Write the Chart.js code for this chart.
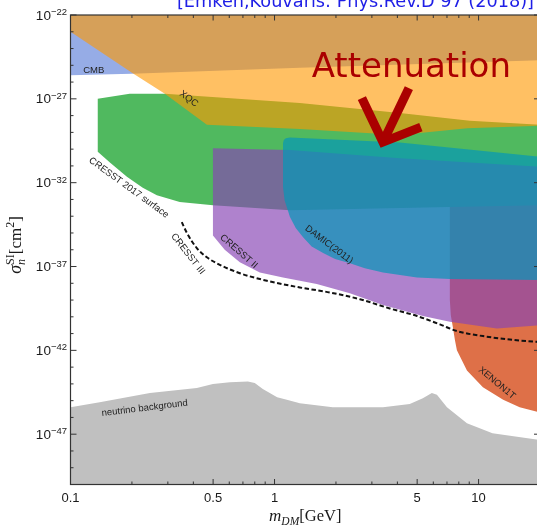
<!DOCTYPE html>
<html>
<head>
<meta charset="utf-8">
<script src="https://cdn.jsdelivr.net/npm/chart.js@4.4.1/dist/chart.umd.min.js"></script>
<style>
  html, body { margin: 0; padding: 0; background: #fff; overflow: hidden; width: 537px; height: 525px; }
  #wrap { position: relative; width: 541px; height: 525px; }
</style>
</head>
<body>
<div id="wrap"><canvas id="c" width="541" height="525"></canvas></div>
<script>
// Exclusion regions: dark-matter mass m_DM in GeV, cross-section as log10(sigma / cm^2)
const cmbMass      = [0.1, 0.2, 1.33, 20, 20, 0.1];
const cmbLogSigma  = [-25.6, -25.5, -25.15, -24.7, -22, -22];

const xqcMass      = [0.1, 0.2, 0.29, 0.466, 1.33, 4.1, 8.8, 20, 20, 0.1];
const xqcLogSigma  = [-23.0, -25.45, -26.7, -28.55, -28.8, -29.15, -28.75, -28.6, -22, -22];

const surfMass     = [0.136, 0.195, 0.29, 1.33, 4.11, 9.06, 20, 20, 7.23, 1.19, 0.499, 0.343, 0.265, 0.226, 0.189, 0.156, 0.136];
const surfLogSigma = [-27.0, -26.7, -26.7, -27.25, -27.85, -28.3, -28.55, -33.35, -33.45, -33.65, -33.35, -33.15, -32.75, -32.3, -31.65, -30.8, -30.15];

const cresst2Mass     = [0.499, 1.19, 4.11, 20, 20, 12.3, 7.23, 5.33, 3.40, 2.34, 1.61, 1.10, 0.847, 0.676, 0.570, 0.499];
const cresst2LogSigma = [-29.95, -30.05, -30.55, -31.05, -40.5, -40.7, -40.3, -39.95, -39.3, -38.6, -38.05, -37.65, -37.35, -36.75, -36.0, -35.15];

const damicMass     = [1.10, 1.11, 1.136, 1.19, 4.11, 20, 20, 7.23, 4.99, 3.40, 2.77, 2.34, 1.98, 1.73, 1.52, 1.38, 1.27, 1.19, 1.12, 1.10];
const damicLogSigma = [-29.65, -29.45, -29.35, -29.3, -29.6, -30.45, -37.8, -37.75, -37.65, -37.35, -37.1, -36.8, -36.55, -36.2, -35.8, -35.25, -34.7, -34.05, -33.05, -32.25];

const xenonMass     = [7.23, 20, 20, 15.9, 13.2, 10.5, 8.77, 7.83, 7.66, 7.48, 7.31, 7.23];
const xenonLogSigma = [-31.05, -31.0, -45.7, -45.4, -44.95, -44.2, -43.2, -42.0, -41.4, -40.6, -39.9, -39.0];

const nuMass     = [0.1, 0.139, 0.245, 0.416, 0.499, 0.604, 0.740, 0.800, 0.876, 1.03, 1.149, 1.33, 1.93, 3.40, 4.60, 5.33, 5.90, 6.25, 7.00, 8.77, 11.7, 20, 20, 0.1];
const nuLogSigma = [-45.4, -45.1, -44.55, -44.25, -44.0, -43.9, -43.85, -43.95, -44.3, -44.8, -44.95, -45.15, -45.4, -45.4, -45.2, -44.85, -44.55, -44.65, -45.4, -46.35, -46.95, -47.35, -50, -50];

// CRESST III projected limit (dashed curve)
const cresst3Mass     = [0.351, 0.372, 0.416, 0.466, 0.539, 0.676, 0.917, 1.33, 1.87, 2.62, 3.67, 4.99, 6.46, 7.83, 10.5, 15.4, 20];
const cresst3LogSigma = [-34.35, -35.0, -35.9, -36.45, -36.9, -37.4, -37.85, -38.25, -38.55, -38.95, -39.5, -39.95, -40.45, -40.85, -41.15, -41.4, -41.5];

// Axis ticks
const xTickLabels = [0.1, 0.5, 1, 5, 10];
const yTickExps   = [-22, -27, -32, -37, -42, -47];

// Region names, placed in data coordinates
const regionLabels = [
  { text: 'CMB', m: 0.130, s: -25.28, angle: 0 },
  { text: 'XQC', m: 0.380, s: -27.0, angle: 37 },
  { text: 'CRESST 2017 surface', m: 0.193, s: -32.3, angle: 36 },
  { text: 'CRESST III', m: 0.376, s: -36.25, angle: 52 },
  { text: 'CRESST II', m: 0.668, s: -36.1, angle: 41 },
  { text: 'DAMIC(2011)', m: 1.85, s: -35.7, angle: 37 },
  { text: 'XENON1T', m: 12.3, s: -43.95, angle: 40 },
  { text: 'neutrino background', m: 0.231, s: -45.45, angle: -7 }
];

function pts(ms, ls) {
  return ms.map((m, i) => ({ x: m, y: Math.pow(10, ls[i]) }));
}
function region(label, ms, ls, color, order) {
  return {
    label, data: pts(ms, ls), showLine: true, fill: 'shape',
    backgroundColor: color, borderColor: 'transparent', borderWidth: 0,
    pointRadius: 0, tension: 0, order
  };
}

function drawRuns(ctx, runs, x, y, angle, align) {
  ctx.save();
  ctx.translate(x, y);
  ctx.rotate(angle);
  let w = 0;
  runs.forEach(r => { ctx.font = r.font; r.w = ctx.measureText(r.text).width; if (r.adv !== 0) w += r.w; });
  let cx = align === 'center' ? -w / 2 : align === 'right' ? -w : 0;
  ctx.textAlign = 'left';
  ctx.textBaseline = 'alphabetic';
  runs.forEach(r => {
    ctx.font = r.font;
    ctx.fillText(r.text, cx, r.dy || 0);
    if (r.adv !== 0) cx += r.w;
  });
  ctx.restore();
}

const SANS = '"Liberation Sans", Arial, sans-serif';
const SERIF = '"Liberation Serif", "Times New Roman", serif';

const decor = {
  id: 'decor',
  afterDatasetsDraw(chart) {
    const { ctx, chartArea: a, scales: { x, y } } = chart;
    const px = m => x.getPixelForValue(m);
    const py = e => y.getPixelForValue(Math.pow(10, e));

    // region names
    ctx.save();
    ctx.fillStyle = '#222';
    ctx.font = '9.5px ' + SANS;
    ctx.textAlign = 'center';
    ctx.textBaseline = 'middle';
    regionLabels.forEach(l => {
      ctx.save();
      ctx.translate(px(l.m), py(l.s));
      ctx.rotate(l.angle * Math.PI / 180);
      ctx.fillText(l.text, 0, 0);
      ctx.restore();
    });
    ctx.restore();

    // frame
    ctx.save();
    ctx.strokeStyle = '#333';
    ctx.lineWidth = 1.2;
    ctx.strokeRect(a.left, a.top, a.right - a.left, a.bottom - a.top);

    // inward tick marks
    ctx.lineWidth = 1;
    ctx.beginPath();
    for (let k = -1; k <= 1; k++) {
      for (let d = 1; d <= 9; d++) {
        const v = d * Math.pow(10, k);
        if (v < 0.1 - 1e-9 || v > 20 + 1e-9) continue;
        const p = px(v);
        const major = xTickLabels.some(t => Math.abs(t - v) < 1e-9);
        const len = major ? 5.5 : 3;
        ctx.moveTo(p, a.bottom); ctx.lineTo(p, a.bottom - len);
        ctx.moveTo(p, a.top); ctx.lineTo(p, a.top + len);
      }
    }
    for (let e = -50; e <= -22; e++) {
      const p = py(e);
      const major = yTickExps.includes(e);
      const len = major ? 6 : 3;
      ctx.moveTo(a.left, p); ctx.lineTo(a.left + len, p);
      ctx.moveTo(a.right, p); ctx.lineTo(a.right - len, p);
    }
    ctx.stroke();
    ctx.restore();

    // tick labels
    ctx.save();
    ctx.fillStyle = '#1a1a1a';
    ctx.font = '13px ' + SANS;
    ctx.textAlign = 'center';
    ctx.textBaseline = 'alphabetic';
    xTickLabels.forEach(v => ctx.fillText(String(v), px(v), a.bottom + 17.5));
    yTickExps.forEach(e => {
      drawRuns(ctx, [
        { text: '10', font: '13.5px ' + SANS, dy: 4.5 },
        { text: '\u2212' + String(-e), font: '9.5px ' + SANS, dy: 0 }
      ], a.left - 3.5, py(e), 0, 'right');
    });

    // axis titles
    drawRuns(ctx, [
      { text: 'm', font: 'italic 17px ' + SERIF },
      { text: 'DM', font: 'italic 11.5px ' + SERIF, dy: 3.5 },
      { text: '[GeV]', font: '16.5px ' + SERIF }
    ], (a.left + a.right) / 2, 521, 0, 'center');
    drawRuns(ctx, [
      { text: '\u03c3', font: 'italic 18px ' + SERIF },
      { text: 'n', font: 'italic 12px ' + SERIF, dy: 4, adv: 0 },
      { text: 'SI', font: '12px ' + SERIF, dy: -7 },
      { text: '[cm', font: '17px ' + SERIF },
      { text: '2', font: '12px ' + SERIF, dy: -7 },
      { text: ']', font: '17px ' + SERIF }
    ], 21, 245, -Math.PI / 2, 'center');
    ctx.restore();

    // attenuation note with hand-drawn arrow
    ctx.save();
    const red = '#aa0000';
    ctx.fillStyle = red;
    ctx.font = '34px "DejaVu Sans", Verdana, sans-serif';
    ctx.textAlign = 'left';
    ctx.textBaseline = 'alphabetic';
    ctx.fillText('Attenuation', px(1.52), py(-25.70));
    const tx = px(3.32), ty = py(-29.94);
    ctx.strokeStyle = red;
    ctx.lineWidth = 9;
    ctx.lineJoin = 'miter';
    ctx.lineCap = 'butt';
    ctx.beginPath();
    ctx.moveTo(tx - 19, ty - 50);
    ctx.lineTo(tx + 2, ty - 6);
    ctx.lineTo(tx + 40, ty - 21);
    ctx.stroke();
    ctx.beginPath();
    ctx.moveTo(tx + 28, ty - 60);
    ctx.lineTo(tx + 4, ty - 10);
    ctx.stroke();
    ctx.restore();

    // reference line at the top
    ctx.save();
    ctx.fillStyle = '#1e1ee6';
    const title = '[Emken,Kouvaris: Phys.Rev.D 97 (2018)]';
    ctx.font = '100px "DejaVu Sans", Verdana, sans-serif';
    const size = 100 * 357 / ctx.measureText(title).width;
    ctx.font = size.toFixed(2) + 'px "DejaVu Sans", Verdana, sans-serif';
    ctx.textAlign = 'right';
    ctx.textBaseline = 'alphabetic';
    ctx.fillText(title, 534, 7);
    ctx.restore();
  }
};

new Chart(document.getElementById('c'), {
  type: 'scatter',
  data: {
    datasets: [
      {
        label: 'CRESST III', data: pts(cresst3Mass, cresst3LogSigma), showLine: true, fill: false,
        borderColor: '#111', borderWidth: 2, borderDash: [4.5, 2.5], pointRadius: 0,
        cubicInterpolationMode: 'monotone', order: 1
      },
      region('DAMIC(2011)', damicMass, damicLogSigma, 'rgba(4,151,184,0.70)', 2),
      region('CRESST II', cresst2Mass, cresst2LogSigma, 'rgba(136,69,181,0.67)', 3),
      region('XQC', xqcMass, xqcLogSigma, 'rgba(255,152,0,0.61)', 4),
      region('CMB', cmbMass, cmbLogSigma, 'rgb(150,172,230)', 5),
      region('CRESST 2017 surface', surfMass, surfLogSigma, 'rgb(80,185,95)', 6),
      region('XENON1T', xenonMass, xenonLogSigma, 'rgb(222,112,72)', 7),
      region('neutrino background', nuMass, nuLogSigma, 'rgb(192,192,192)', 8)
    ]
  },
  options: {
    responsive: false,
    animation: false,
    events: [],
    layout: { padding: { left: 70.5, top: 15, right: 1, bottom: 40.5 } },
    plugins: { legend: { display: false }, tooltip: { enabled: false } },
    scales: {
      x: { type: 'logarithmic', min: 0.1, max: 20, display: false },
      y: { type: 'logarithmic', min: 1e-50, max: 1e-22, display: false }
    }
  },
  plugins: [decor]
});
</script>
</body>
</html>
